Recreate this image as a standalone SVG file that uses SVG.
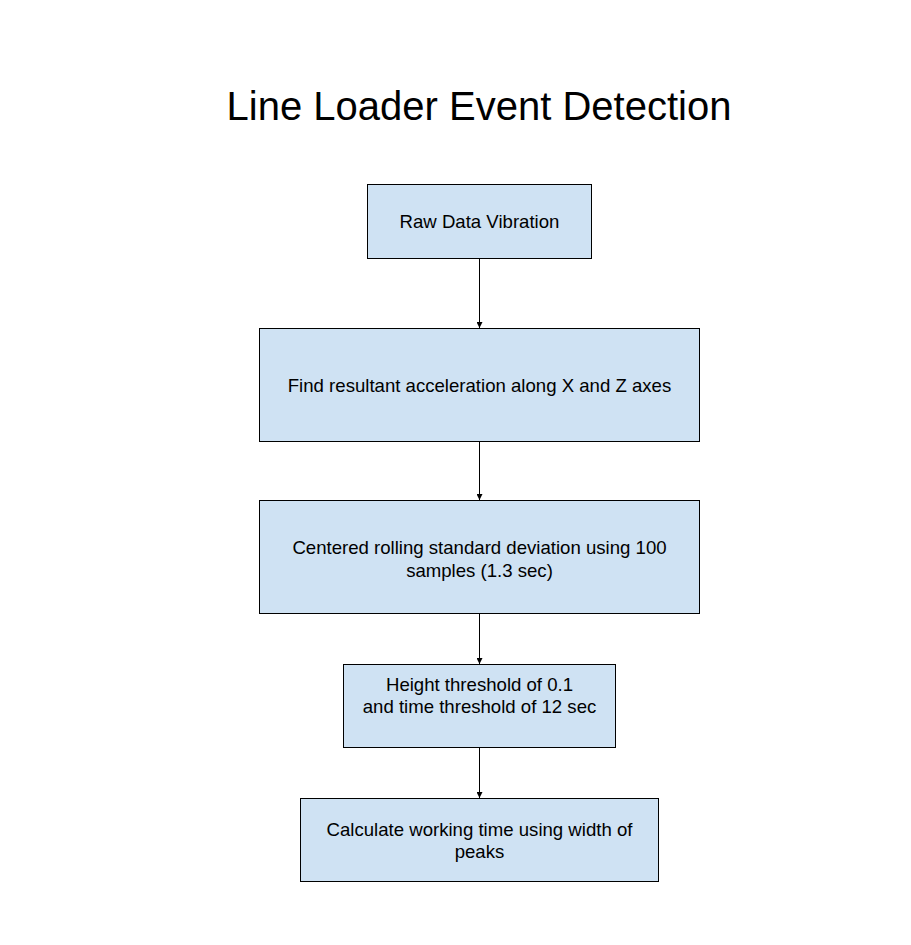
<svg xmlns="http://www.w3.org/2000/svg" width="911" height="945" viewBox="0 0 911 945">
<style>
.box{fill:#cfe2f3;stroke:#000;stroke-width:1}
.t{font-family:"Liberation Sans",Arial,sans-serif;font-size:18.6px;fill:#000;text-anchor:middle}
.title{font-family:"Liberation Sans",Arial,sans-serif;font-size:40px;fill:#000;text-anchor:middle}
.c{stroke:#000;stroke-width:1;fill:none;marker-end:url(#ah)}
</style>
<defs>
<marker id="ah" markerWidth="6" markerHeight="6" refX="6" refY="3" orient="auto" markerUnits="userSpaceOnUse">
<path d="M0,0 L6,3 L0,6 z" fill="#000"/>
</marker>
</defs>
<rect width="911" height="945" fill="#fff"/>
<text class="title" x="479" y="120">Line Loader Event Detection</text>
<g id="connectors">
<line class="c" x1="479.5" y1="258" x2="479.5" y2="328"/>
<line class="c" x1="479.5" y1="441" x2="479.5" y2="500"/>
<line class="c" x1="479.5" y1="613" x2="479.5" y2="664"/>
<line class="c" x1="479.5" y1="747" x2="479.5" y2="798"/>
</g>
<g id="n1">
<rect class="box" x="367.5" y="184.5" width="224" height="74"/>
<text class="t" x="479.5" y="228">Raw Data Vibration</text>
</g>
<g id="n2">
<rect class="box" x="259.5" y="328.5" width="440" height="113"/>
<text class="t" x="479.5" y="392">Find resultant acceleration along X and Z axes</text>
</g>
<g id="n3">
<rect class="box" x="259.5" y="500.5" width="440" height="113"/>
<text class="t" x="479.5" y="554">Centered rolling standard deviation using 100</text>
<text class="t" x="479.5" y="577">samples (1.3 sec)</text>
</g>
<g id="n4">
<rect class="box" x="343.5" y="664.5" width="272" height="83"/>
<text class="t" x="479.5" y="691">Height threshold of 0.1</text>
<text class="t" x="479.5" y="713">and time threshold of 12 sec</text>
</g>
<g id="n5">
<rect class="box" x="300.5" y="798.5" width="358" height="83"/>
<text class="t" x="479.5" y="836">Calculate working time using width of</text>
<text class="t" x="479.5" y="858">peaks</text>
</g>
</svg>
